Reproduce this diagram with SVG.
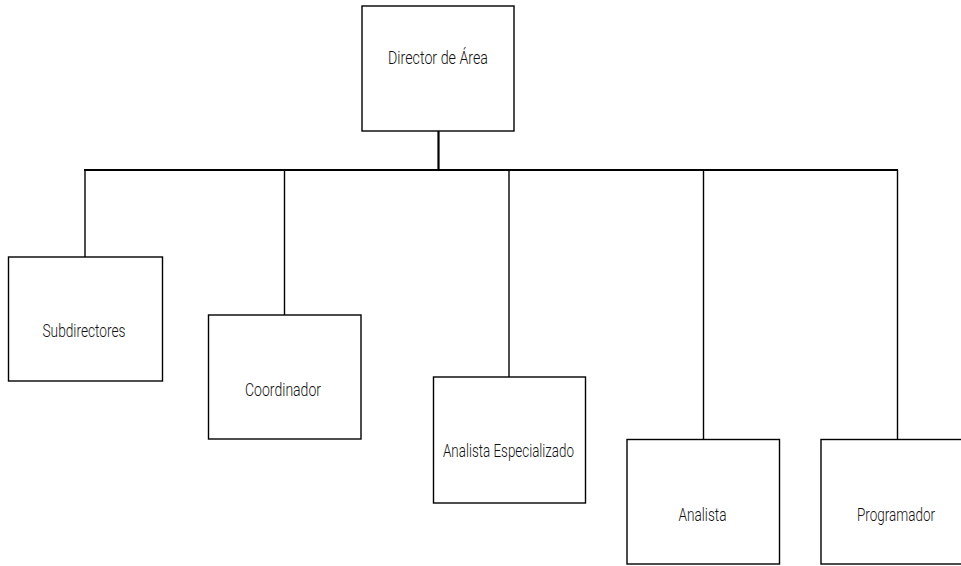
<svg xmlns="http://www.w3.org/2000/svg" width="961" height="566" viewBox="0 0 961 566">
<style>
.box{fill:#fff;stroke:#000;stroke-width:1.4}
.lbl{font-family:Roboto,"Liberation Sans",Arial,sans-serif;font-weight:300;font-size:19px;fill:#111;text-anchor:middle}
.con{stroke:#000;fill:none;stroke-width:1.4}
.main{stroke:#000;fill:none;stroke-width:2.2}
</style>
<rect width="961" height="566" fill="#fff"/>
<g id="connectors">
<line class="main" x1="438.5" y1="131" x2="438.5" y2="170"/>
<line class="main" x1="84" y1="170" x2="898" y2="170"/>
<line class="con" x1="85" y1="170" x2="85" y2="257"/>
<line class="con" x1="284.5" y1="170" x2="284.5" y2="315"/>
<line class="con" x1="509" y1="170" x2="509" y2="377"/>
<line class="con" x1="703.5" y1="170" x2="703.5" y2="439"/>
<line class="con" x1="897.5" y1="170" x2="897.5" y2="440"/>
</g>
<g id="director">
<rect class="box" x="362" y="6" width="152" height="125"/>
<text class="lbl" x="438" y="63.5" textLength="100" lengthAdjust="spacingAndGlyphs">Director de Área</text>
</g>
<g id="subdirectores">
<rect class="box" x="8.5" y="257" width="154" height="124"/>
<text class="lbl" x="84" y="337" textLength="83" lengthAdjust="spacingAndGlyphs">Subdirectores</text>
</g>
<g id="coordinador">
<rect class="box" x="208.5" y="315" width="152.5" height="124"/>
<text class="lbl" x="283" y="396" textLength="76" lengthAdjust="spacingAndGlyphs">Coordinador</text>
</g>
<g id="analista-especializado">
<rect class="box" x="433.5" y="377" width="152" height="126"/>
<text class="lbl" x="508.5" y="457" textLength="131" lengthAdjust="spacingAndGlyphs">Analista Especializado</text>
</g>
<g id="analista">
<rect class="box" x="627" y="439.5" width="152.5" height="124.5"/>
<text class="lbl" x="702.5" y="521" textLength="48" lengthAdjust="spacingAndGlyphs">Analista</text>
</g>
<g id="programador">
<rect class="box" x="821" y="439.5" width="152.5" height="124.5"/>
<text class="lbl" x="896" y="521" textLength="78" lengthAdjust="spacingAndGlyphs">Programador</text>
</g>
</svg>
